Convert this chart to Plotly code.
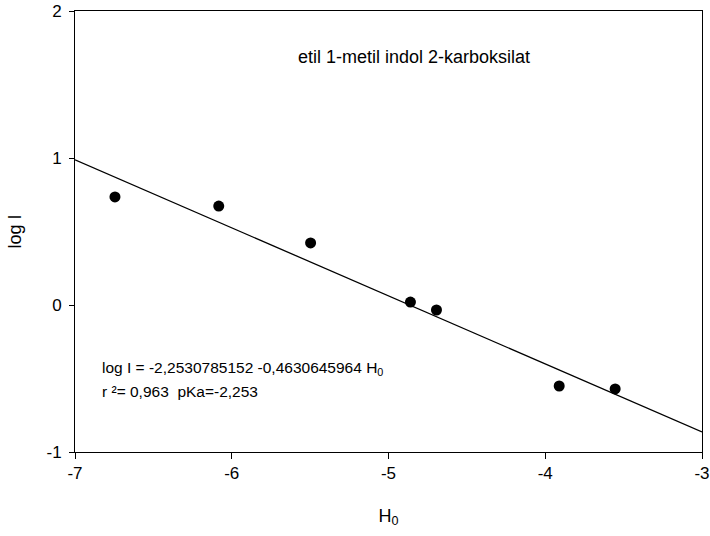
import plotly.graph_objects as go

# measured points
h0 = [-6.745, -6.083, -5.497, -4.86, -4.694, -3.911, -3.554]
log_i = [0.735, 0.673, 0.422, 0.02, -0.034, -0.551, -0.571]

# regression line end points
fit_x = [-7, -3]
fit_y = [0.988, -0.864]

x_ticks = [-7, -6, -5, -4, -3]
x_labels = ["-7", "-6", "-5", "-4", "-3"]
y_ticks = [-1, 0, 1, 2]
y_labels = ["-1", "0", "1", "2"]

FONT = "Liberation Sans, Arial, sans-serif"

fig = go.Figure()
fig.add_trace(go.Scatter(
    x=fit_x, y=fit_y, mode="lines",
    line=dict(color="black", width=1.3),
    showlegend=False,
))
fig.add_trace(go.Scatter(
    x=h0, y=log_i, mode="markers",
    marker=dict(color="black", size=11),
    showlegend=False,
))

fig.add_annotation(
    x=0.54, y=0.923, xref="paper", yref="paper",
    text="etil 1-metil indol 2-karboksilat",
    showarrow=False, font=dict(size=18, color="black", family=FONT),
)
fig.add_annotation(
    x=0.04, y=0.19, xref="paper", yref="paper", xanchor="left", yanchor="middle",
    text="log I = -2,2530785152 -0,4630645964 H<sub>0</sub>",
    showarrow=False, font=dict(size=15.5, color="black", family=FONT),
)
fig.add_annotation(
    x=0.04, y=0.138, xref="paper", yref="paper", xanchor="left", yanchor="middle",
    text="r ²= 0,963&nbsp;&nbsp;pKa=-2,253",
    showarrow=False, font=dict(size=15.5, color="black", family=FONT),
)

fig.update_layout(
    width=710, height=536,
    margin=dict(l=75, r=8, t=11, b=84),
    plot_bgcolor="white", paper_bgcolor="white",
    font=dict(family=FONT, size=17, color="black"),
)
fig.update_xaxes(
    range=[-7, -3], tickvals=x_ticks, ticktext=x_labels,
    showline=True, linecolor="black", linewidth=1, mirror=True,
    ticks="outside", ticklen=6, tickcolor="black",
    showgrid=False, zeroline=False, automargin=False,
    ticklabeloverflow="allow",
    title=dict(text="H<sub>0</sub>", font=dict(size=18), standoff=26),
)
fig.update_yaxes(
    range=[-1, 2], tickvals=y_ticks, ticktext=y_labels,
    showline=True, linecolor="black", linewidth=1, mirror=True,
    ticks="outside", ticklen=5, tickcolor="black", ticklabelstandoff=4,
    showgrid=False, zeroline=False, automargin=False,
    ticklabeloverflow="allow",
    title=dict(text="log I", font=dict(size=18), standoff=20),
)

# drop the default body margin so the figure fills the window
fig.write_html(
    "out.html",
    config={"displayModeBar": False},
    post_script="document.body.style.margin='0';",
)
